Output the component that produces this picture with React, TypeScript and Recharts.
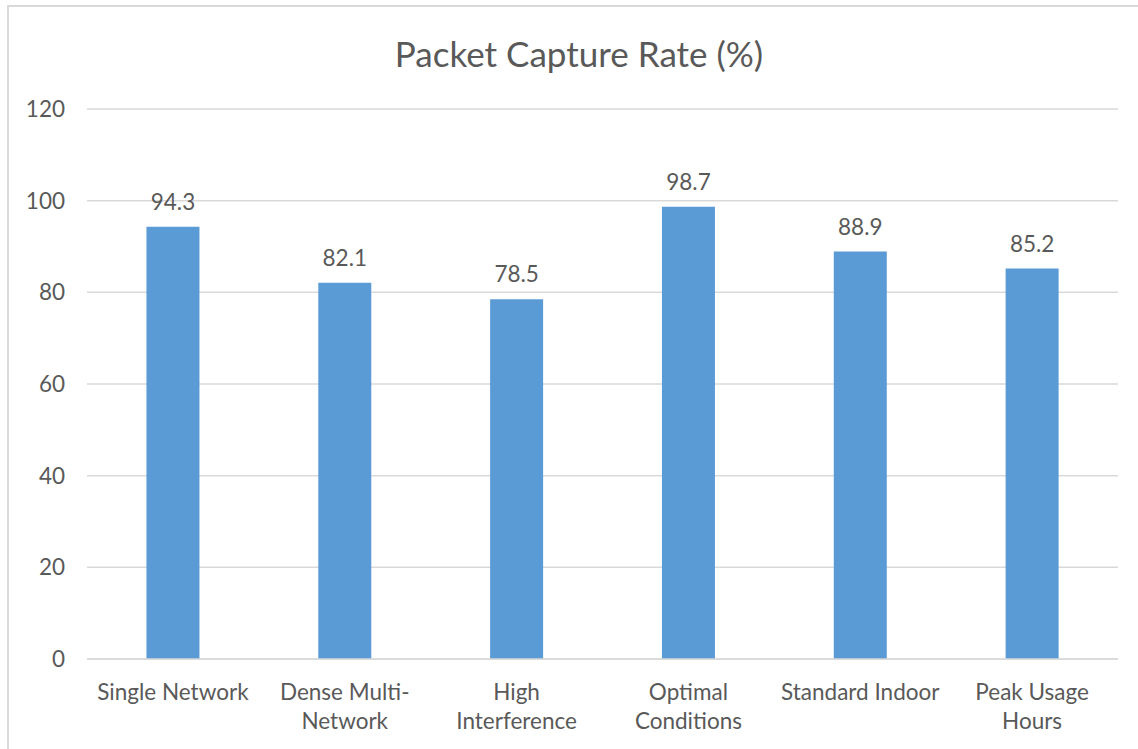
import { BarChart, Bar, XAxis, YAxis, CartesianGrid, LabelList } from "recharts";

const categories = [
  "Single Network",
  "Dense Multi-Network",
  "High Interference",
  "Optimal Conditions",
  "Standard Indoor",
  "Peak Usage Hours",
];
// how each category label wraps under the axis
const categoryLines = [
  ["Single Network"],
  ["Dense Multi-", "Network"],
  ["High", "Interference"],
  ["Optimal", "Conditions"],
  ["Standard Indoor"],
  ["Peak Usage", "Hours"],
];
const captureRate = [94.3, 82.1, 78.5, 98.7, 88.9, 85.2];
const yTicks = [0, 20, 40, 60, 80, 100, 120];

const data = categories.map((name, i) => ({
  name,
  value: captureRate[i],
}));

const FONT = "Lato, 'Open Sans', sans-serif";
const TEXT = "#595959";

function CategoryTick(props: any) {
  const { x, y, payload } = props;
  const lines = categoryLines[categories.indexOf(payload.value)] || [payload.value];
  return (
    <g transform={`translate(${x},${y})`}>
      {lines.map((line: string, i: number) => (
        <text
          key={i}
          x={0}
          y={27 + i * 29}
          textAnchor="middle"
          dominantBaseline="middle"
          fill={TEXT}
          fontSize={22.5}
          fontFamily={FONT}
        >
          {line}
        </text>
      ))}
    </g>
  );
}

export default function App() {
  return (
    <div
      style={{
        position: "absolute",
        left: 0,
        top: 0,
        width: 1138,
        height: 749,
        background: "#fff",
        overflow: "hidden",
      }}
    >
      <div
        style={{
          position: "absolute",
          left: 7,
          top: 5,
          width: 1138,
          height: 760,
          borderLeft: "2px solid #D9D9D9",
          borderTop: "2px solid #D9D9D9",
        }}
      />
      <div
        style={{
          position: "absolute",
          left: 0,
          top: 32,
          width: 1158,
          textAlign: "center",
          fontFamily: FONT,
          fontSize: 35,
          color: TEXT,
        }}
      >
        Packet Capture Rate (%)
      </div>
      <BarChart
        width={1138}
        height={749}
        data={data}
        margin={{ top: 109, right: 20, bottom: 0, left: 0 }}
        barCategoryGap="34.6%"
        style={{ position: "absolute", left: 0, top: 0 }}
      >
        <CartesianGrid vertical={false} stroke="#D9D9D9" strokeWidth={1.5} />
        <XAxis
          dataKey="name"
          height={90}
          axisLine={{ stroke: "#D9D9D9", strokeWidth: 1.5 }}
          tickLine={false}
          interval={0}
          tick={<CategoryTick />}
        />
        <YAxis
          width={87}
          domain={[0, 120]}
          ticks={yTicks}
          axisLine={false}
          tickLine={false}
          tickSize={0}
          tickMargin={22}
          tick={{ fill: TEXT, fontSize: 22.5, fontFamily: FONT }}
        />
        <Bar dataKey="value" fill="#5B9BD5" isAnimationActive={false}>
          <LabelList
            dataKey="value"
            position="top"
            offset={17}
            fill={TEXT}
            fontSize={22.5}
            fontFamily={FONT}
          />
        </Bar>
      </BarChart>
    </div>
  );
}
